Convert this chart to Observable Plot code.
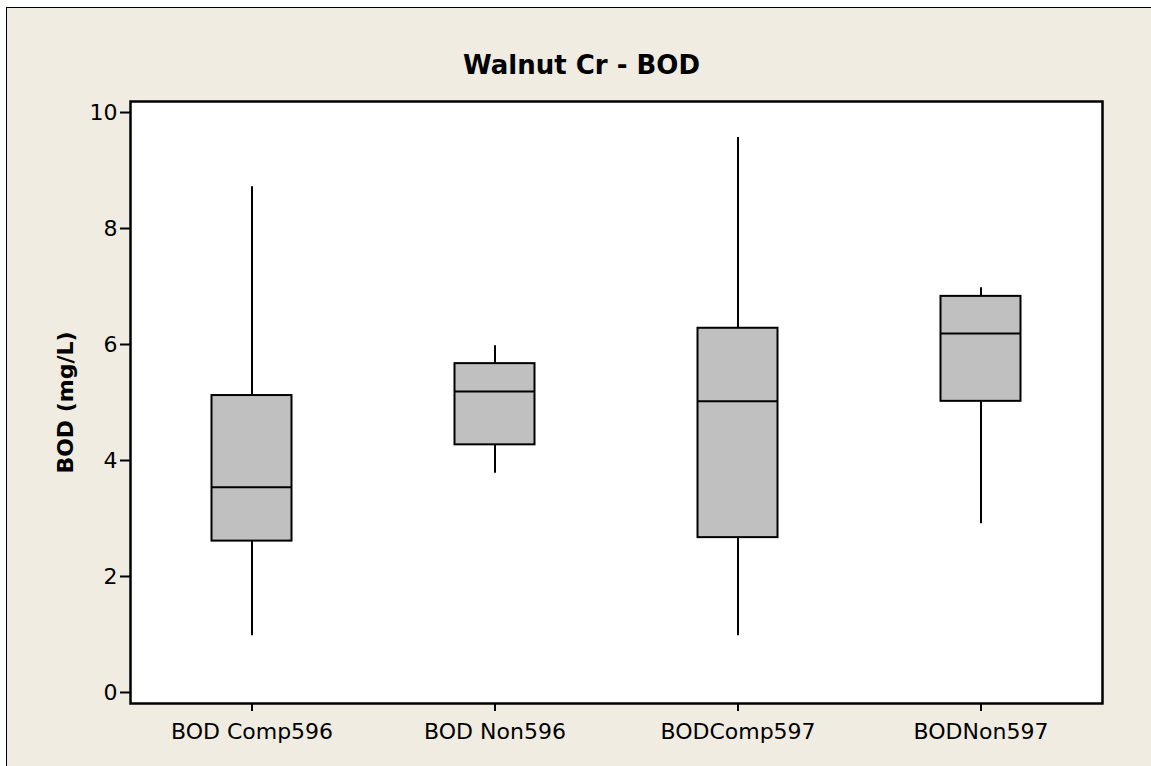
<!DOCTYPE html>
<html>
<head>
<meta charset="utf-8">
<script src="https://cdn.jsdelivr.net/npm/d3@7"></script>
<script src="https://cdn.jsdelivr.net/npm/@observablehq/plot@0.6"></script>
<style>
  html, body { margin: 0; padding: 0; background: #ffffff; }
  body { width: 1151px; height: 766px; overflow: hidden; position: relative; }
  #frame {
    position: absolute; left: 6px; top: 7px;
    width: 1145px; height: 759px;
    border-top: 1px solid #000; border-left: 1px solid #000;
    background: #F0ECE2;
  }
  #frame svg { display: block; background: transparent; }
</style>
</head>
<body>
<div id="frame"></div>
<script>
const categories = ["BOD Comp596", "BOD Non596", "BODComp597", "BODNon597"];
const mins    = [0.98, 3.78, 0.98, 2.91];
const q1s     = [2.61, 4.27, 2.67, 5.02];
const medians = [3.54, 5.19, 5.02, 6.19];
const q3s     = [5.12, 5.67, 6.28, 6.83];
const maxs    = [8.72, 5.98, 9.57, 6.98];
const yTicks  = [0, 2, 4, 6, 8, 10];
const titleText = "Walnut Cr - BOD";
const yLabel = "BOD (mg/L)";

const data = categories.map((c, i) => ({
  cat: c, min: mins[i], q1: q1s[i], med: medians[i], q3: q3s[i], max: maxs[i]
}));

const font = "DejaVu Sans, sans-serif";
const inset = 81.5;

const chart = Plot.plot({
  width: 1144,
  height: 758,
  marginLeft: 123,
  marginTop: 93,
  marginRight: 49,
  marginBottom: 63,
  style: { fontFamily: font, background: "transparent", color: "#000" },
  x: { type: "band", domain: categories, padding: 0, label: null },
  y: { domain: [-0.19, 10.19], label: null },
  marks: [
    Plot.frame({ fill: "#ffffff", stroke: "none" }),
    Plot.ruleX(data, { x: "cat", y1: "q3", y2: "max", stroke: "#000", strokeWidth: 2 }),
    Plot.ruleX(data, { x: "cat", y1: "min", y2: "q1", stroke: "#000", strokeWidth: 2 }),
    Plot.barY(data, { x: "cat", y1: "q1", y2: "q3", fill: "#C0C0C0", stroke: "#000", strokeWidth: 2, insetLeft: inset, insetRight: inset }),
    Plot.tickY(data, { x: "cat", y: "med", stroke: "#000", strokeWidth: 2, insetLeft: inset, insetRight: inset }),
    Plot.axisY({ ticks: yTicks, tickSize: 10, tickPadding: 3, fontSize: 22, tickFormat: d => String(d), strokeWidth: 2,
                 label: yLabel, labelAnchor: "center", labelArrow: "none", labelOffset: 73 }),
    Plot.axisX({ tickSize: 8, tickPadding: 12, fontSize: 22, label: null, strokeWidth: 2 }),
    Plot.frame({ stroke: "#000", strokeWidth: 2.5 }),
    Plot.text([titleText], { frameAnchor: "top", dx: -35, dy: -46, text: d => d, fontSize: 26, fontWeight: "bold", fill: "#000" })
  ]
});
// style the y-axis label (bold)
d3.select(chart).selectAll("g[aria-label='y-axis label'] text")
  .style("font-weight", "bold").style("font-size", "22px");
document.getElementById("frame").appendChild(chart);
</script>
</body>
</html>
